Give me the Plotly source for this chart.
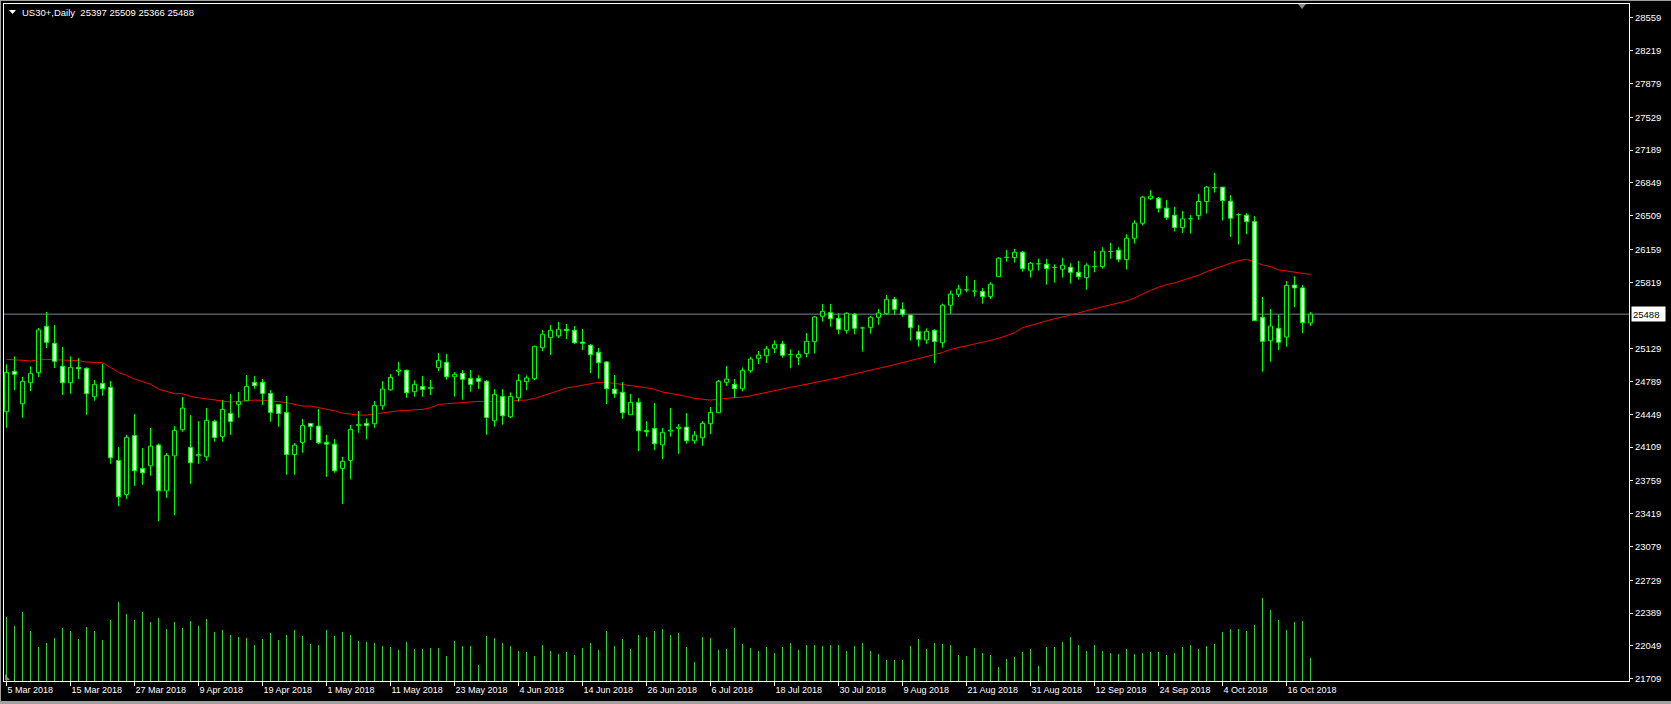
import plotly.graph_objects as go

# ---------------- data ----------------
tick_labels = ["5 Mar 2018", "15 Mar 2018", "27 Mar 2018", "9 Apr 2018", "19 Apr 2018",
               "1 May 2018", "11 May 2018", "23 May 2018", "4 Jun 2018", "14 Jun 2018",
               "26 Jun 2018", "6 Jul 2018", "18 Jul 2018", "30 Jul 2018", "9 Aug 2018",
               "21 Aug 2018", "31 Aug 2018", "12 Sep 2018", "24 Sep 2018", "4 Oct 2018",
               "16 Oct 2018"]
tick_bar_index = [0, 8, 16, 24, 32, 40, 48, 56, 64, 72, 80, 88, 96, 104, 112, 120, 128,
                  136, 144, 152, 160]

price_tick_labels = ["28559", "28219", "27879", "27529", "27189", "26849", "26509", "26159",
                     "25819", "25129", "24789", "24449", "24109", "23759", "23419", "23079",
                     "22729", "22389", "22049", "21709"]

opens = [24476, 24895, 24559, 24777, 24881, 25362, 25185, 24947, 24777, 24936,
         24926, 24632, 24770, 24729, 23971, 23618, 24230, 23888, 23916, 24130,
         23656, 24019, 24289, 24106, 24020, 24009, 24376, 24220, 24459, 24552,
         24590, 24781, 24781, 24666, 24552, 24469, 24033, 24158, 24355, 24327,
         24158, 24140, 23888, 23971, 24331, 24355, 24352, 24538, 24704, 24895,
         24905, 24684, 24739, 24718, 24933, 24988, 24839, 24874, 24822, 24822,
         24791, 24383, 24635, 24424, 24621, 24787, 24819, 25140, 25244, 25262,
         25331, 25320, 25199, 25165, 25092, 24992, 24711, 24677, 24445, 24573,
         24282, 24303, 24133, 24275, 24303, 24317, 24175, 24206, 24352, 24466,
         24781, 24760, 24715, 24902, 25030, 25057, 25134, 25178, 25068, 25040,
         25080, 25203, 25466, 25504, 25445, 25320, 25487, 25345, 25351, 25455,
         25493, 25642, 25538, 25479, 25306, 25220, 25320, 25192, 25580, 25694,
         25740, 25727, 25722, 25670, 25877, 26078, 26075, 26130, 25943, 26010,
         26005, 25973, 25954, 25974, 25922, 25867, 25983, 25981, 26138, 26151,
         26054, 26275, 26431, 26687, 26690, 26587, 26514, 26386, 26477, 26510,
         26656, 26799, 26805, 26659, 26519, 26514, 26448, 25455, 25213, 25341,
         25250, 25790, 25760, 25397]

highs = [24967, 25050, 24839, 24947, 25345, 25511, 25376, 25147, 25050, 25033,
         24936, 24805, 24974, 24794, 24109, 24237, 24452, 24099, 24307, 24147,
         24047, 24327, 24628, 24441, 24379, 24514, 24393, 24597, 24660, 24680,
         24857, 24846, 24815, 24701, 24552, 24639, 24151, 24400, 24355, 24507,
         24237, 24192, 24009, 24338, 24483, 24407, 24587, 24794, 24867, 24992,
         24915, 24801, 24846, 24805, 25085, 25075, 24888, 24909, 24909, 24853,
         24805, 24711, 24711, 24677, 24867, 24853, 25161, 25324, 25376, 25407,
         25386, 25365, 25334, 25179, 25137, 25002, 24857, 24784, 24660, 24618,
         24379, 24566, 24307, 24514, 24348, 24462, 24275, 24379, 24525, 24805,
         24950, 24815, 24936, 25047, 25106, 25158, 25217, 25210, 25123, 25110,
         25293, 25466, 25594, 25594, 25497, 25507, 25500, 25358, 25469, 25542,
         25687, 25666, 25611, 25479, 25376, 25341, 25331, 25597, 25732, 25791,
         25884, 25843, 25760, 25819, 26078, 26154, 26165, 26144, 26030, 26064,
         26061, 26005, 26071, 26016, 26040, 26016, 26144, 26182, 26227, 26182,
         26317, 26462, 26715, 26773, 26704, 26673, 26600, 26559, 26514, 26735,
         26818, 26953, 26805, 26722, 26535, 26535, 26504, 25666, 25542, 25483,
         25830, 25880, 25790, 25509]

lows = [24310, 24701, 24414, 24691, 24836, 25137, 24929, 24649, 24663, 24815,
        24445, 24590, 24642, 23936, 23497, 23573, 23708, 23718, 23812, 23341,
        23583, 23403, 24268, 23729, 23936, 23967, 24165, 24165, 24237, 24414,
        24590, 24715, 24545, 24372, 24320, 23822, 23822, 24050, 24182, 24140,
        23801, 23843, 23521, 23774, 24258, 24189, 24310, 24497, 24694, 24850,
        24621, 24632, 24632, 24649, 24898, 24808, 24632, 24601, 24684, 24711,
        24237, 24320, 24341, 24410, 24580, 24701, 24805, 25106, 25064, 25241,
        25230, 25179, 25116, 24877, 24819, 24556, 24621, 24403, 24445, 24068,
        24217, 24078, 23985, 24217, 24040, 24144, 24144, 24123, 24244, 24466,
        24742, 24618, 24687, 24881, 24971, 24981, 25085, 25037, 24926, 24960,
        25040, 25080, 25410, 25358, 25279, 25286, 25279, 25100, 25286, 25379,
        25479, 25483, 25462, 25213, 25151, 25179, 24980, 25140, 25490, 25666,
        25715, 25670, 25597, 25646, 25874, 26033, 26023, 25929, 25867, 25940,
        25794, 25815, 25867, 25805, 25846, 25742, 25922, 25960, 26061, 26026,
        25950, 26220, 26407, 26673, 26542, 26466, 26345, 26331, 26324, 26466,
        26531, 26749, 26459, 26289, 26210, 26317, 25415, 24891, 24995, 25116,
        25150, 25560, 25290, 25366]

closes = [24884, 24864, 24791, 24874, 25324, 25196, 24999, 24777, 24936, 24922,
          24663, 24760, 24715, 23999, 23594, 24210, 23864, 23843, 24120, 23656,
          24023, 24282, 24514, 23947, 24032, 24386, 24210, 24500, 24376, 24580,
          24739, 24746, 24666, 24469, 24459, 24033, 24130, 24334, 24324, 24154,
          24140, 23864, 23961, 24293, 24345, 24331, 24542, 24711, 24832, 24909,
          24673, 24760, 24708, 24729, 25009, 24839, 24864, 24812, 24760, 24791,
          24417, 24656, 24435, 24635, 24801, 24826, 25154, 25279, 25320, 25331,
          25317, 25192, 25185, 25068, 24985, 24715, 24663, 24466, 24573, 24279,
          24268, 24144, 24262, 24286, 24317, 24175, 24234, 24355, 24469, 24791,
          24815, 24715, 24905, 25023, 25064, 25127, 25175, 25061, 25061, 25070,
          25206, 25459, 25517, 25441, 25331, 25497, 25341, 25352, 25455, 25500,
          25642, 25538, 25486, 25348, 25227, 25310, 25203, 25580, 25697, 25749,
          25746, 25722, 25670, 25798, 26068, 26084, 26130, 25960, 26016, 26014,
          25960, 25969, 25995, 25922, 25877, 25995, 25987, 26140, 26142, 26057,
          26275, 26431, 26701, 26711, 26587, 26490, 26386, 26476, 26481, 26656,
          26805, 26803, 26666, 26483, 26523, 26448, 25421, 25206, 25365, 25196,
          25785, 25760, 25400, 25488]

moving_average = [25019, 25016, 25009, 25002, 25016, 25019, 25016, 25009, 25009, 25005,
                  24992, 24992, 24985, 24936, 24884, 24853, 24815, 24788, 24760, 24711,
                  24691, 24663, 24663, 24635, 24621, 24611, 24601, 24590, 24576, 24583,
                  24590, 24597, 24594, 24590, 24580, 24570, 24549, 24535, 24535, 24521,
                  24507, 24486, 24462, 24448, 24441, 24441, 24455, 24466, 24476, 24486,
                  24490, 24497, 24500, 24518, 24552, 24559, 24566, 24573, 24583, 24583,
                  24583, 24583, 24583, 24587, 24594, 24597, 24614, 24642, 24663, 24691,
                  24722, 24736, 24749, 24763, 24781, 24781, 24770, 24760, 24749, 24739,
                  24725, 24708, 24680, 24666, 24653, 24635, 24614, 24604, 24597, 24608,
                  24614, 24618, 24628, 24642, 24660, 24677, 24701, 24715, 24729, 24745,
                  24760, 24778, 24795, 24812, 24830, 24848, 24866, 24885, 24905, 24925,
                  24945, 24965, 24985, 25005, 25025, 25045, 25065, 25090, 25123, 25144,
                  25158, 25179, 25196, 25213, 25237, 25265, 25296, 25348, 25372, 25390,
                  25417, 25441, 25459, 25476, 25500, 25524, 25545, 25566, 25583, 25601,
                  25625, 25656, 25697, 25735, 25767, 25794, 25812, 25836, 25860, 25891,
                  25929, 25960, 25988, 26016, 26043, 26057, 26030, 25998, 25981, 25947,
                  25935, 25925, 25915, 25900]

volumes = [6400, 5500, 6900, 5000, 3400, 3800, 4300, 5300, 5000, 4200,
           5400, 5000, 4100, 6100, 7900, 6700, 6100, 6900, 5900, 6300,
           5200, 5900, 5300, 6000, 5500, 6200, 4900, 5100, 4600, 4400,
           4300, 3600, 4200, 4800, 4100, 4600, 5100, 4500, 3700, 3600,
           5100, 4500, 4900, 4600, 4000, 3900, 3800, 3500, 3400, 3100,
           3900, 3200, 3200, 3300, 3300, 2500, 4000, 3500, 3500, 1600,
           4500, 4300, 3800, 3500, 3000, 2900, 2500, 3600, 3000, 2700,
           2900, 2600, 3300, 3800, 3100, 5000, 3500, 4200, 3200, 4600,
           4400, 5000, 5200, 4600, 4800, 3400, 1900, 4400, 4300, 3100,
           3200, 5300, 3700, 3300, 3000, 3400, 2800, 3400, 3800, 3100,
           3600, 3600, 3500, 3600, 3600, 3000, 3500, 3800, 3000, 2700,
           2100, 2100, 2100, 3500, 4200, 3200, 3800, 3700, 3600, 2600,
           2500, 3300, 2800, 2600, 1400, 2200, 2400, 2900, 3200, 1500,
           3400, 3400, 3900, 4400, 3600, 3000, 3600, 3000, 2800, 2700,
           3200, 2700, 2800, 2900, 2900, 2600, 2800, 3400, 3600, 3200,
           3500, 3700, 4900, 5200, 5200, 5000, 5600, 8300, 7100, 6100,
           5100, 5900, 6000, 2300]

symbol_title = "US30+,Daily"

# ---------------- styling / geometry ----------------
W, H = 1671, 704
ML, MR, MT, MB = 4, 42, 4, 23
PLOT_W = W - ML - MR
PLOT_H = H - MT - MB
BAR_PX = 8.0
X0 = -0.3125
X1 = X0 + PLOT_W / BAR_PX
Y_LO, Y_HI = 21684, 28704
HALF = 0.25

LIME = "#00ff00"
VOLC = "#32cd32"
GRAY = "#778899"
FONT = "Liberation Sans"


def px(xp):
    return (xp - ML) / PLOT_W


def py(yp):
    return (H - MB - yp) / PLOT_H


n = len(opens)
idx = list(range(n))

# wicks (upper & lower segments)
wx, wy = [], []
for i, (o, h, l, c) in enumerate(zip(opens, highs, lows, closes)):
    top, bot = max(o, c), min(o, c)
    wx += [i, i, None, i, i, None]
    wy += [h, top, None, bot, l, None]


def bodies(sel):
    bx, by = [], []
    for i in sel:
        o, c = opens[i], closes[i]
        bx += [i - HALF, i + HALF, i + HALF, i - HALF, i - HALF, None]
        by += [o, o, c, c, o, None]
    return bx, by


bull = [i for i in idx if closes[i] >= opens[i]]
bear = [i for i in idx if closes[i] < opens[i]]
bux, buy = bodies(bull)
bex, bey = bodies(bear)

vx, vy = [], []
for i, v in enumerate(volumes):
    vx += [i, i, None]
    vy += [0, v, None]

fig = go.Figure()
fig.add_trace(go.Scatter(x=vx, y=vy, mode="lines", yaxis="y2",
                         line=dict(color=VOLC, width=1), hoverinfo="skip"))
fig.add_trace(go.Scatter(x=idx, y=moving_average, mode="lines",
                         line=dict(color="#ff0000", width=1), hoverinfo="skip"))
fig.add_trace(go.Scatter(x=wx, y=wy, mode="lines",
                         line=dict(color=LIME, width=1), hoverinfo="skip"))
fig.add_trace(go.Scatter(x=bux, y=buy, mode="lines", fill="toself", fillcolor="black",
                         line=dict(color=LIME, width=1), hoverinfo="skip"))
fig.add_trace(go.Scatter(x=bex, y=bey, mode="lines", fill="toself", fillcolor="white",
                         line=dict(color=LIME, width=1), hoverinfo="skip"))

last_close = closes[-1]

shapes = [
    dict(type="line", xref="paper", yref="y", x0=0, x1=1, y0=last_close, y1=last_close,
         line=dict(color=GRAY, width=1), layer="below"),
    # title triangle
    dict(type="path", xref="paper", yref="paper",
         path=f"M {px(9)} {py(10)} L {px(16)} {py(10)} L {px(12.5)} {py(14)} Z",
         fillcolor="white", line=dict(width=0)),
    # chart shift marker at top
    dict(type="path", xref="paper", yref="paper",
         path=f"M {px(1298)} {py(4)} L {px(1306)} {py(4)} L {px(1302)} {py(9)} Z",
         fillcolor="#8c8c8c", line=dict(width=0)),
    # small marker at bottom-left
    dict(type="path", xref="paper", yref="paper",
         path=f"M {px(5)} {py(674)} L {px(5)} {py(680)} L {px(10)} {py(680)} Z",
         fillcolor="#8c8c8c", line=dict(width=0)),
    # window frame
    dict(type="line", xref="paper", yref="paper", x0=px(0), x1=px(W), y0=py(0.5), y1=py(0.5),
         line=dict(color="#a0a0a0", width=1)),
    dict(type="line", xref="paper", yref="paper", x0=px(0.5), x1=px(0.5), y0=py(0), y1=py(H),
         line=dict(color="#a0a0a0", width=1)),
    dict(type="rect", xref="paper", yref="paper", x0=px(0), x1=px(W), y0=py(701), y1=py(H),
         fillcolor="#a0a0a0", line=dict(width=0)),
]

annotations = [
    dict(xref="paper", yref="paper", x=px(20), y=py(12.5), xanchor="left", yanchor="middle",
         text=f"{symbol_title}\u00a0\u00a0{opens[-1]} {highs[-1]} {lows[-1]} {closes[-1]}",
         showarrow=False, font=dict(family=FONT, size=9.5, color="white")),
    dict(xref="paper", yref="y", x=1, y=last_close, xanchor="left", xshift=2,
         text=str(last_close), showarrow=False, bgcolor="white", borderpad=1,
         width=31, height=12, align="left",
         font=dict(family=FONT, size=9.5, color="black")),
]

fig.update_layout(
    width=W, height=H, margin=dict(l=ML, r=MR, t=MT, b=MB, pad=0),
    paper_bgcolor="black", plot_bgcolor="black", showlegend=False,
    hovermode=False, dragmode=False,
    xaxis=dict(range=[X0, X1], tickmode="array", tickvals=tick_bar_index, ticktext=tick_labels,
               ticks="outside", ticklen=4, tickcolor="white", tickwidth=1,
               showgrid=False, zeroline=False, showline=True, linecolor="white", linewidth=1,
               mirror=True, ticklabelposition="outside right",
               tickfont=dict(family=FONT, size=9, color="white"), fixedrange=True),
    yaxis=dict(range=[Y_LO, Y_HI], side="right", tickmode="array",
               tickvals=[int(t) for t in price_tick_labels], ticktext=price_tick_labels,
               ticks="outside", ticklen=3, tickcolor="white", tickwidth=1,
               showgrid=False, zeroline=False, showline=True, linecolor="white", linewidth=1,
               mirror=True, tickfont=dict(family=FONT, size=9.5, color="white"),
               fixedrange=True),
    yaxis2=dict(range=[0, PLOT_H * 100], overlaying="y", visible=False, fixedrange=True),
    shapes=shapes, annotations=annotations,
)

fig.write_html("out.html", config={"displayModeBar": False, "staticPlot": True},
               post_script="document.body.style.margin='0';document.body.style.background='black';")
